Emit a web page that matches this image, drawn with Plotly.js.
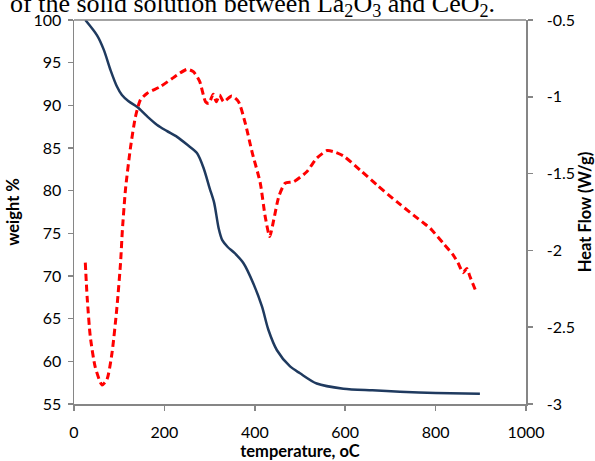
<!DOCTYPE html>
<html>
<head>
<meta charset="utf-8">
<script src="https://cdn.plot.ly/plotly-3.0.1.min.js"></script>
<style>html,body{margin:0;padding:0;background:#fff;}#chart{width:595px;height:461px;}</style>
</head>
<body>
<div id="chart"></div>
<script>
// Weight % (TGA) series
var tgaTemp = [25, 51, 66, 81, 95, 106, 120, 140, 162, 184, 205, 228, 250, 272, 287, 300, 310, 320, 328, 340, 355, 375, 397, 416, 430, 449, 478, 500, 537, 596, 660, 721, 800, 898];
var tgaWeight = [100, 98.2, 96.5, 94.1, 92.2, 91.2, 90.5, 89.8, 88.7, 87.7, 87.0, 86.3, 85.4, 84.4, 82.6, 80.3, 78.6, 75.6, 74.2, 73.4, 72.7, 71.5, 69.1, 66.4, 63.7, 61.3, 59.4, 58.6, 57.4, 56.8, 56.6, 56.44, 56.3, 56.2];

// Heat flow (DSC) series
var dscTemp = [25, 29, 36, 47, 62, 73, 84, 95, 103, 107, 114, 125, 136, 147, 162, 191, 228, 250, 264, 278, 291, 298, 308, 315, 322, 331, 349, 364, 379, 394, 412, 423, 433, 442, 453, 467, 486, 515, 537, 560, 574, 596, 633, 670, 714, 751, 777, 788, 817, 839, 850, 861, 869, 876, 891];
var dscHeat = [-2.08, -2.30, -2.56, -2.76, -2.876, -2.84, -2.67, -2.37, -2.08, -1.87, -1.6, -1.33, -1.13, -1.02, -0.977, -0.934, -0.858, -0.821, -0.836, -0.90, -1.032, -1.043, -0.984, -1.032, -0.988, -1.032, -0.995, -1.032, -1.173, -1.36, -1.56, -1.78, -1.91, -1.80, -1.65, -1.563, -1.553, -1.488, -1.40, -1.35, -1.357, -1.385, -1.477, -1.574, -1.683, -1.77, -1.83, -1.856, -1.954, -2.03, -2.084, -2.145, -2.117, -2.17, -2.28];

// Tick labels
var xTicks = [0, 200, 400, 600, 800, 1000];
var xTickText = ["0", "200", "400", "600", "800", "1000"];
var yTicks = [55, 60, 65, 70, 75, 80, 85, 90, 95, 100];
var yTickText = ["55", "60", "65", "70", "75", "80", "85", "90", "95", "100"];
var y2Ticks = [-3, -2.5, -2, -1.5, -1, -0.5];
var y2TickText = ["-3", "-2.5", "-2", "-1.5", "-1", "-0.5"];

var axisGray = "#868686";

var traces = [
  {
    x: tgaTemp, y: tgaWeight, type: "scatter", mode: "lines", name: "weight %",
    line: {color: "#1F3A5F", width: 2.5, shape: "spline", smoothing: 0.8},
    hoverinfo: "x+y"
  },
  {
    x: dscTemp, y: dscHeat, type: "scatter", mode: "lines", name: "Heat Flow",
    yaxis: "y2",
    line: {color: "#FF0000", width: 3, dash: "7px,4px", shape: "spline", smoothing: 0.6},
    hoverinfo: "x+y"
  }
];

var layout = {
  width: 595, height: 461,
  margin: {l: 74, r: 69, t: 20, b: 57, pad: 0},
  paper_bgcolor: "#ffffff", plot_bgcolor: "#ffffff",
  showlegend: false,
  font: {family: "Lato, 'Open Sans', sans-serif", size: 16, color: "#000000"},
  xaxis: {
    range: [0, 1000], tickmode: "array", tickvals: xTicks, ticktext: xTickText,
    ticks: "outside", ticklen: 5, tickwidth: 1.5, tickcolor: axisGray,
    ticklabelstandoff: 8,
    showline: true, linecolor: axisGray, linewidth: 1.5,
    showgrid: false, zeroline: false,
    title: {text: "<b>temperature, oC</b>", font: {size: 16.5}, standoff: 13}
  },
  yaxis: {
    range: [55, 100], tickmode: "array", tickvals: yTicks, ticktext: yTickText,
    ticks: "outside", ticklen: 5, tickwidth: 1.5, tickcolor: axisGray,
    ticklabelstandoff: 3,
    showline: true, linecolor: axisGray, linewidth: 1.5,
    showgrid: false, zeroline: false,
    title: {text: "<b>weight %</b>", font: {size: 16.5}, standoff: 9}
  },
  yaxis2: {
    range: [-3, -0.5], overlaying: "y", side: "right",
    tickmode: "array", tickvals: y2Ticks, ticktext: y2TickText,
    ticks: "outside", ticklen: 5, tickwidth: 1.5, tickcolor: axisGray,
    ticklabelstandoff: 11,
    showline: true, linecolor: axisGray, linewidth: 1.5,
    showgrid: false, zeroline: false,
    title: {text: "<b>Heat Flow (W/g)</b>", font: {size: 16.5}, standoff: 3}
  },
  shapes: [
    {type: "line", xref: "paper", yref: "paper", x0: 0, x1: 1, y0: 1, y1: 1,
     line: {color: axisGray, width: 1.5}}
  ],
  annotations: [
    {
      text: "of the solid solution between La<sub>2</sub>O<sub>3</sub> and CeO<sub>2</sub>.",
      xref: "paper", yref: "paper", x: -0.146, y: 1.040,
      xanchor: "left", yanchor: "middle", showarrow: false,
      font: {family: "'Liberation Serif', 'Times New Roman', serif", size: 26, color: "#000000"}
    }
  ]
};

Plotly.newPlot("chart", traces, layout, {displayModeBar: false, staticPlot: true});
</script>
</body>
</html>
